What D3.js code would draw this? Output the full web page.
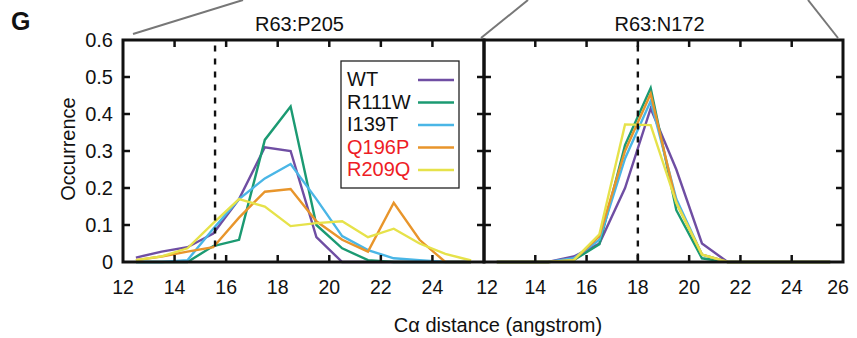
<!DOCTYPE html>
<html>
<head>
<meta charset="utf-8">
<script src="https://cdn.jsdelivr.net/npm/d3@7"></script>
<style>
  body { margin: 0; background: #fff; }
  svg text { font-family: "Liberation Sans", Arial, sans-serif; fill: #111; }
</style>
</head>
<body>
<div id="container"></div>
<script>
// bin centres (angstrom)
var binCenters = [12.5,13.5,14.5,15.5,16.5,17.5,18.5,19.5,20.5,21.5,22.5,23.5,24.5,25.5];

var seriesNames  = ["WT", "R111W", "I139T", "Q196P", "R209Q"];
var seriesColors = ["#6f4ea3", "#1b9a72", "#4ab6e6", "#e8952b", "#e6e24a"];
var labelColors  = ["#111", "#111", "#111", "#ee1c25", "#ee1c25"];

// R63:P205 panel
var p205_WT    = [0.012,0.028,0.040,0.077,0.170,0.310,0.300,0.067,0,0,0,0,0,0];
var p205_R111W = [0,0,0,0.043,0.060,0.330,0.420,0.100,0.037,0.005,0,0,0,0];
var p205_I139T = [0,0,0.005,0.090,0.170,0.226,0.265,0.170,0.070,0.032,0.010,0.005,0,0];
var p205_Q196P = [0.005,0.015,0.028,0.040,0.120,0.190,0.197,0.110,0.060,0.028,0.160,0.060,0,0];
var p205_R209Q = [0.005,0.015,0.037,0.105,0.170,0.150,0.097,0.105,0.110,0.067,0.090,0.050,0.022,0.004];

// R63:N172 panel
var n172_WT    = [0,0,0,0.015,0.050,0.200,0.415,0.250,0.050,0,0,0,0,0];
var n172_R111W = [0,0,0,0.005,0.048,0.316,0.470,0.140,0.010,0,0,0,0,0];
var n172_I139T = [0,0,0,0.010,0.060,0.280,0.435,0.170,0.020,0,0,0,0,0];
var n172_Q196P = [0,0,0,0.005,0.070,0.300,0.455,0.160,0.020,0,0,0,0,0];
var n172_R209Q = [0,0,0,0.005,0.075,0.372,0.370,0.160,0.020,0,0,0,0,0];

var yTicks = [0, 0.1, 0.2, 0.3, 0.4, 0.5, 0.6];
var yTickLabels = ["0", "0.1", "0.2", "0.3", "0.4", "0.5", "0.6"];
var xTicks = [12, 14, 16, 18, 20, 22, 24, 26];

var panels = [
  { title: "R63:P205", x0: 123, x1: 484, dashAt: 15.57,
    series: [p205_WT, p205_R111W, p205_I139T, p205_Q196P, p205_R209Q],
    labels: [12, 14, 16, 18, 20, 22, 24] },
  { title: "R63:N172", x0: 484, x1: 843, dashAt: 18,
    series: [n172_WT, n172_R111W, n172_I139T, n172_Q196P, n172_R209Q],
    labels: [12, 14, 16, 18, 20, 22, 24, 26] }
];

var width = 857, height = 338;
var plotTop = 40, plotBottom = 262;
var fs = "20px";

var svg = d3.select("#container").append("svg")
    .attr("width", width).attr("height", height);

var y = d3.scaleLinear().domain([0, 0.6]).range([plotBottom, plotTop]);

// zoom-in connector lines from the panel above
var connectors = [[133,34,243,0],[481,38,528,0],[808,0,838,38]];
svg.selectAll(".conn").data(connectors).enter().append("line")
    .attr("x1", d => d[0]).attr("y1", d => d[1])
    .attr("x2", d => d[2]).attr("y2", d => d[3])
    .attr("stroke", "#777").attr("stroke-width", 2);

panels.forEach(function(p, pi) {
  var x = d3.scaleLinear().domain([12, 26]).range([p.x0, p.x1]);
  var g = svg.append("g");

  // data lines
  var line = d3.line()
      .x((d, i) => x(binCenters[i]))
      .y(d => y(d));
  p.series.forEach(function(vals, si) {
    g.append("path")
      .datum(vals)
      .attr("d", line)
      .attr("fill", "none")
      .attr("stroke", seriesColors[si])
      .attr("stroke-width", 2.4)
      .attr("stroke-linejoin", "miter");
  });

  // dashed reference
  g.append("line")
    .attr("x1", x(p.dashAt)).attr("x2", x(p.dashAt))
    .attr("y1", y(0.585)).attr("y2", y(0))
    .attr("stroke", "#111").attr("stroke-width", 2.4)
    .attr("stroke-dasharray", "6,7");

  // inward ticks on all sides
  var inner = xTicks.filter(t => t > 12 && t < 26);
  g.selectAll(".tb").data(inner).enter().append("line")
    .attr("x1", d => x(d)).attr("x2", d => x(d))
    .attr("y1", plotBottom).attr("y2", plotBottom - 7)
    .attr("stroke", "#111").attr("stroke-width", 2.5);
  g.selectAll(".tt").data(inner).enter().append("line")
    .attr("x1", d => x(d)).attr("x2", d => x(d))
    .attr("y1", plotTop).attr("y2", plotTop + 7)
    .attr("stroke", "#111").attr("stroke-width", 2.5);
  var innerY = yTicks.filter(t => t > 0 && t < 0.6);
  g.selectAll(".tl").data(innerY).enter().append("line")
    .attr("x1", p.x0).attr("x2", p.x0 + 7)
    .attr("y1", d => y(d)).attr("y2", d => y(d))
    .attr("stroke", "#111").attr("stroke-width", 2.5);
  g.selectAll(".tr").data(innerY).enter().append("line")
    .attr("x1", p.x1).attr("x2", p.x1 - 7)
    .attr("y1", d => y(d)).attr("y2", d => y(d))
    .attr("stroke", "#111").attr("stroke-width", 2.5);

  // frame
  g.append("rect")
    .attr("x", p.x0).attr("y", plotTop)
    .attr("width", p.x1 - p.x0).attr("height", plotBottom - plotTop)
    .attr("fill", "none").attr("stroke", "#111").attr("stroke-width", 3);

  // x tick labels
  g.selectAll(".xl").data(p.labels).enter().append("text")
    .attr("x", d => x(d) + (pi == 1 && d == 12 ? 3 : 0) + (d == 26 ? -5 : 0))
    .attr("y", 294)
    .attr("text-anchor", "middle")
    .style("font-size", "19.5px")
    .text(d => d);

  // panel title
  g.append("text")
    .attr("x", (p.x0 + p.x1) / 2 - 4).attr("y", 31)
    .attr("text-anchor", "middle")
    .style("font-size", fs)
    .text(p.title);
});

// y tick labels
svg.selectAll(".yl").data(yTicks).enter().append("text")
  .attr("x", 113).attr("y", d => y(d) + 7)
  .attr("text-anchor", "end")
  .style("font-size", fs)
  .text((d, i) => yTickLabels[i]);

// axis titles
svg.append("text")
  .attr("transform", "translate(75,149) rotate(-90)")
  .attr("text-anchor", "middle")
  .style("font-size", fs)
  .text("Occurrence");

svg.append("text")
  .attr("x", 498).attr("y", 332)
  .attr("text-anchor", "middle")
  .style("font-size", fs)
  .text("C\u03b1 distance (angstrom)");

svg.append("text")
  .attr("x", 11).attr("y", 30)
  .style("font-size", "25px").style("font-weight", "bold")
  .text("G");

// legend
var lg = svg.append("g");
lg.append("rect")
  .attr("x", 341).attr("y", 61).attr("width", 118).attr("height", 127)
  .attr("fill", "#fff").attr("stroke", "#222").attr("stroke-width", 1.3);
seriesNames.forEach(function(name, i) {
  var yy = 80 + i * 22.5;
  lg.append("text")
    .attr("x", 347).attr("y", yy + 6)
    .style("font-size", fs)
    .style("fill", labelColors[i])
    .text(name);
  lg.append("line")
    .attr("x1", 418).attr("x2", 454)
    .attr("y1", yy).attr("y2", yy)
    .attr("stroke", seriesColors[i]).attr("stroke-width", 2.4);
});
</script>
</body>
</html>
